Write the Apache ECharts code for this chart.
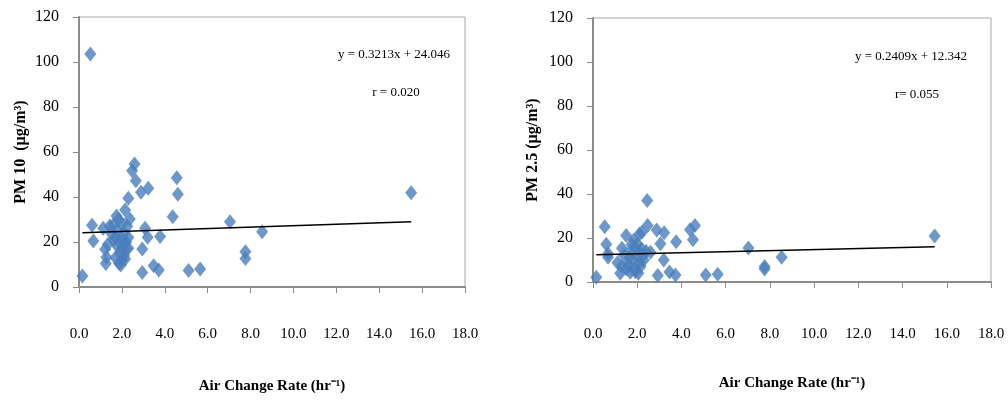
<!DOCTYPE html>
<html><head><meta charset="utf-8">
<script src="https://cdn.jsdelivr.net/npm/echarts@6/dist/echarts.min.js"></script>
<style>html,body{margin:0;padding:0;background:#fff}#c{width:1008px;height:403px}</style>
</head><body><div id="c"></div>
<script>
// PM10 panel
const pm10AirChange = [0.16,0.53,0.61,0.67,1.13,1.22,1.25,1.28,1.44,1.6,1.75,1.87,2.15,2.3,2.37,2.3,2.48,2.59,2.65,2.89,3.23,2.95,2.95,3.08,3.2,4.37,4.56,4.61,3.48,3.72,3.78,5.11,5.65,7.04,7.76,7.76,8.54,15.49,
  1.7,1.8,1.9,2.0,2.1,1.8,2.0,2.2,1.9,2.1,2.2,1.7,2.0,1.6,2.3,1.85,2.05,2.25,1.95,2.15,1.5,1.35];
const pm10Values = [4.9,103.6,27.4,20.4,26.1,16.8,10.5,13.2,27.1,27.6,31.6,10.5,34.2,39.4,30.2,17.2,51.7,54.7,47.2,42.1,43.9,16.9,6.4,26.1,22.1,31.2,48.6,41.2,9.5,7.6,22.4,7.3,8.0,29.0,15.7,12.7,24.6,41.9,
  22,18,15,12,14,25,28,20,20,24,17,13,17,21,22,30,21,27,9.8,12.5,24,19];
const pm10TrendX = [0.16, 15.49];
const pm10TrendY = [24.10, 29.02];
const pm10Equation = 'y = 0.3213x + 24.046';
const pm10R = 'r = 0.020';

// PM2.5 panel
const pm25AirChange = [0.15,0.53,0.6,0.68,0.68,1.11,1.23,1.31,1.5,1.68,1.85,1.91,2.01,2.1,2.21,2.45,2.47,2.6,2.88,2.93,3.05,3.22,3.2,3.46,3.73,3.76,4.39,4.61,4.52,5.1,5.64,7.03,7.76,7.76,8.53,15.45,
  1.4,1.6,1.7,1.8,1.9,2.0,2.1,2.2,1.5,1.75,2.05,2.15,1.65,2.3,1.95,2.25,1.3,2.4];
const pm25Values = [2.2,25.1,17.2,12.8,11.3,8.8,4.0,15.3,21.1,4.4,19.1,4.7,17.3,21.8,22.6,37,25.7,13.5,23.6,3.0,17.4,22.4,10,4.5,3.2,18.3,23.7,25.7,19.2,3.2,3.5,15.4,7.0,5.9,11.2,20.9,
  12,8,14,10,6,12,9,15,6,17,4,7,11,10,15,12,7,14];
const pm25TrendX = [0.15, 15.45];
const pm25TrendY = [12.38, 16.06];
const pm25Equation = 'y = 0.2409x + 12.342';
const pm25R = 'r= 0.055';

const xTicks = ['0.0','2.0','4.0','6.0','8.0','10.0','12.0','14.0','16.0','18.0'];
const xAxisTitle = 'Air Change Rate (hr\u207B\u00B9)';
const yTitles = ['PM 10  (\u00B5g/m\u00B3)', 'PM 2.5 (\u00B5g/m\u00B3)'];

const zip = (a, b) => a.map((v, i) => [v, b[i]]);
const serif = '"Liberation Serif", "Times New Roman", serif';
const blue = '#4a7ebb';

function xAxis(gi, gap, margin) {
  return {
    gridIndex: gi, type: 'value', min: 0, max: 18, interval: 2,
    name: xAxisTitle, nameLocation: 'middle', nameGap: gap,
    nameTextStyle: {fontFamily: serif, fontWeight: 'bold', fontSize: 15, color: '#000'},
    axisLine: {show: true, lineStyle: {color: '#8c8c8c', width: 2}},
    axisTick: {show: true, length: 6, lineStyle: {color: '#8c8c8c', width: 1}},
    axisLabel: {margin: margin, fontFamily: serif, fontSize: 15, color: '#000',
      formatter: v => xTicks[Math.round(v / 2)]},
    splitLine: {show: false}
  };
}
function yAxis(gi, title, gap) {
  return {
    gridIndex: gi, type: 'value', min: 0, max: 120, interval: 20,
    name: title, nameLocation: 'middle', nameGap: gap, nameRotate: 90,
    nameTextStyle: {fontFamily: serif, fontWeight: 'bold', fontSize: 16, color: '#000'},
    axisLine: {show: true, lineStyle: {color: '#8c8c8c', width: 2}},
    axisTick: {show: true, length: 6, lineStyle: {color: '#8c8c8c', width: 1}},
    axisLabel: {margin: 20, fontFamily: serif, fontSize: 16, color: '#000'},
    splitLine: {show: false}
  };
}

const chart = echarts.init(document.getElementById('c'));
chart.setOption({
  animation: false,
  backgroundColor: '#fff',
  grid: [
    {left: 79, top: 17, width: 386, height: 270, show: true, borderColor: '#a6a6a6', borderWidth: 1},
    {left: 593, top: 18, width: 398, height: 264, show: true, borderColor: '#a6a6a6', borderWidth: 1}
  ],
  xAxis: [xAxis(0, 92, 40), xAxis(1, 94, 45)],
  yAxis: [yAxis(0, yTitles[0], 50), yAxis(1, yTitles[1], 52)],
  series: [
    {type: 'scatter', xAxisIndex: 0, yAxisIndex: 0, symbol: 'diamond', symbolSize: [12, 15],
      itemStyle: {color: blue}, data: zip(pm10AirChange, pm10Values), z: 2},
    {type: 'line', xAxisIndex: 0, yAxisIndex: 0, symbol: 'none', lineStyle: {color: '#000', width: 1.5},
      data: zip(pm10TrendX, pm10TrendY), z: 3},
    {type: 'scatter', xAxisIndex: 1, yAxisIndex: 1, symbol: 'diamond', symbolSize: [12, 15],
      itemStyle: {color: blue}, data: zip(pm25AirChange, pm25Values), z: 2},
    {type: 'line', xAxisIndex: 1, yAxisIndex: 1, symbol: 'none', lineStyle: {color: '#000', width: 1.5},
      data: zip(pm25TrendX, pm25TrendY), z: 3}
  ],
  graphic: [
    {type: 'text', x: 394, y: 55, style: {text: pm10Equation, font: '13px ' + serif, fill: '#000', align: 'center', verticalAlign: 'middle'}},
    {type: 'text', x: 396, y: 93, style: {text: pm10R, font: '13px ' + serif, fill: '#000', align: 'center', verticalAlign: 'middle'}},
    {type: 'text', x: 911, y: 57, style: {text: pm25Equation, font: '13px ' + serif, fill: '#000', align: 'center', verticalAlign: 'middle'}},
    {type: 'text', x: 917, y: 95, style: {text: pm25R, font: '13px ' + serif, fill: '#000', align: 'center', verticalAlign: 'middle'}}
  ]
});
</script></body></html>
